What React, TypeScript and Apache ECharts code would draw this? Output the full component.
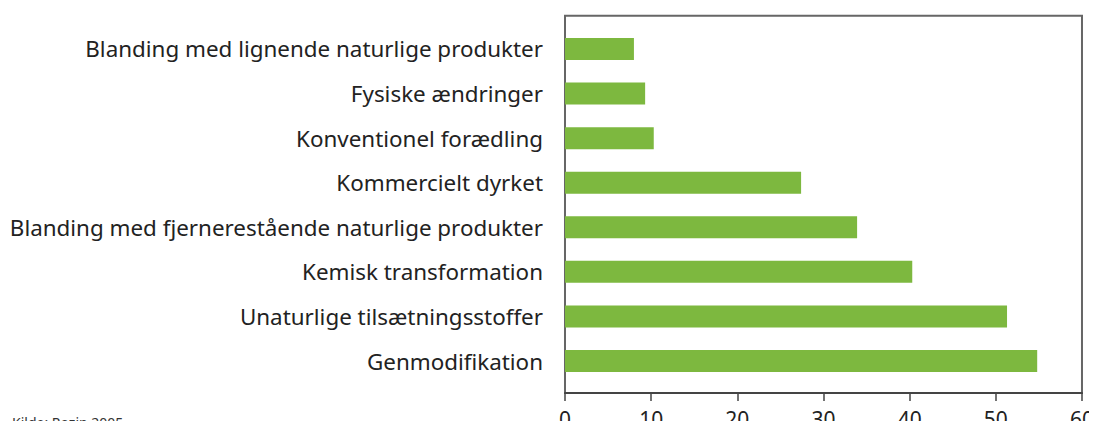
import React, { useEffect, useRef } from "react";
import * as echarts from "echarts";

const categories = [
  "Blanding med lignende naturlige produkter",
  "Fysiske ændringer",
  "Konventionel forædling",
  "Kommercielt dyrket",
  "Blanding med fjernerestående naturlige produkter",
  "Kemisk transformation",
  "Unaturlige tilsætningsstoffer",
  "Genmodifikation",
];
const values = [8.0, 9.3, 10.3, 27.4, 33.9, 40.3, 51.3, 54.8];
const xMin = 0;
const xMax = 60;
const xInterval = 10;
const source = "Kilde: Rozin 2005";

const FONT = "'Noto Sans', sans-serif";

export default function App() {
  const ref = useRef<HTMLDivElement>(null);
  useEffect(() => {
    const chart = echarts.init(ref.current!, null, { renderer: "svg" });
    chart.setOption({
      animation: false,
      backgroundColor: "#ffffff",
      textStyle: { fontFamily: FONT },
      grid: [
        {
          left: 565,
          top: 15.7,
          width: 517,
          height: 380,
          show: true,
          borderColor: "#666666",
          borderWidth: 2,
          backgroundColor: "transparent",
        },
        { left: 565, top: 26.7, width: 517, height: 356.6 },
      ],
      xAxis: [
        {
          gridIndex: 0,
          type: "value",
          min: xMin,
          max: xMax,
          interval: xInterval,
          axisLine: { show: true, lineStyle: { color: "#444444", width: 2 } },
          axisTick: { show: true, length: 8, lineStyle: { color: "#444444", width: 1.5 } },
          splitLine: { show: false },
          axisLabel: { color: "#222222", fontSize: 21, fontFamily: FONT, margin: 15 },
        },
        {
          gridIndex: 1,
          type: "value",
          min: xMin,
          max: xMax,
          show: false,
          splitLine: { show: false },
        },
      ],
      yAxis: [
        { gridIndex: 0, type: "value", show: false, splitLine: { show: false } },
        {
          gridIndex: 1,
          type: "category",
          inverse: true,
          data: categories,
          axisLine: { show: false },
          axisTick: { show: false },
          axisLabel: { color: "#222222", fontSize: 22.4, fontFamily: FONT, margin: 22 },
        },
      ],
      graphic: [
        {
          type: "text",
          left: 12,
          top: 415,
          style: { text: source, fontSize: 14, fill: "#333333", fontFamily: FONT },
        },
      ],
      series: [
        {
          type: "bar",
          xAxisIndex: 1,
          yAxisIndex: 1,
          data: values,
          barWidth: 22,
          itemStyle: { color: "#7db83f" },
        },
      ],
    });
    return () => chart.dispose();
  }, []);
  return <div ref={ref} style={{ width: 1097, height: 429, margin: -8 }} />;
}
